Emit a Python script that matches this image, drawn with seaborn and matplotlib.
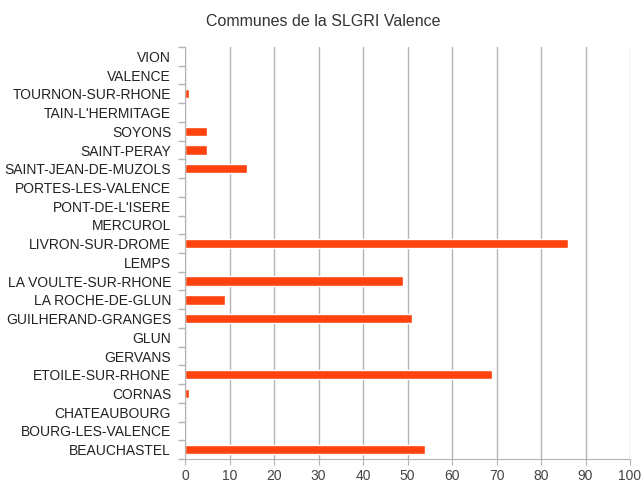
import numpy as np
import pandas as pd
import matplotlib.pyplot as plt
import seaborn as sns

sns.set_style("white")
plt.rcParams['font.family'] = ['Liberation Sans', 'DejaVu Sans']

communes = ["VION", "VALENCE", "TOURNON-SUR-RHONE", "TAIN-L'HERMITAGE", "SOYONS",
            "SAINT-PERAY", "SAINT-JEAN-DE-MUZOLS", "PORTES-LES-VALENCE", "PONT-DE-L'ISERE",
            "MERCUROL", "LIVRON-SUR-DROME", "LEMPS", "LA VOULTE-SUR-RHONE", "LA ROCHE-DE-GLUN",
            "GUILHERAND-GRANGES", "GLUN", "GERVANS", "ETOILE-SUR-RHONE", "CORNAS",
            "CHATEAUBOURG", "BOURG-LES-VALENCE", "BEAUCHASTEL"]
valeurs = [0, 0, 1, 0, 5, 5, 14, 0, 0, 0, 86, 0, 49, 9, 51, 0, 0, 69, 1, 0, 0, 54]

df = pd.DataFrame({"commune": communes, "valeur": valeurs})

fig = plt.figure(figsize=(6.44, 4.82), dpi=100)
ax = fig.add_axes([185 / 644, 1 - 459 / 482, 445 / 644, 412 / 482])

sns.barplot(data=df, x="valeur", y="commune", color="#ff420e", saturation=1,
            width=0.5, ax=ax)

ax.set_xlim(0, 100)
ax.set_xticks(np.arange(0, 101, 10))
ax.set_ylim(len(communes) - 0.5, -0.5)
ax.xaxis.grid(True, color="#b3b3b3", linewidth=1)
ax.set_axisbelow(True)
ax.set_xlabel("")
ax.set_ylabel("")
fig.text(0.502, 1 - 21 / 482, "Communes de la SLGRI Valence", fontsize=11.5,
         color="#333333", ha="center", va="center")

for s in ["top", "right"]:
    ax.spines[s].set_visible(False)
for s in ["left", "bottom"]:
    ax.spines[s].set_visible(True)
    ax.spines[s].set_color("#b3b3b3")

# petits traits entre les catégories
ax.set_yticks(np.arange(-0.5, len(communes), 1), minor=True)
ax.tick_params(axis="y", which="major", left=False, length=0, labelsize=10,
               labelcolor="#222222", pad=10)
ax.tick_params(axis="y", which="minor", left=True, length=5, width=1, color="#b3b3b3")
ax.tick_params(axis="x", bottom=True, length=4, color="#b3b3b3", labelsize=10,
               labelcolor="#444444")

fig.savefig("out.png", dpi=100)
